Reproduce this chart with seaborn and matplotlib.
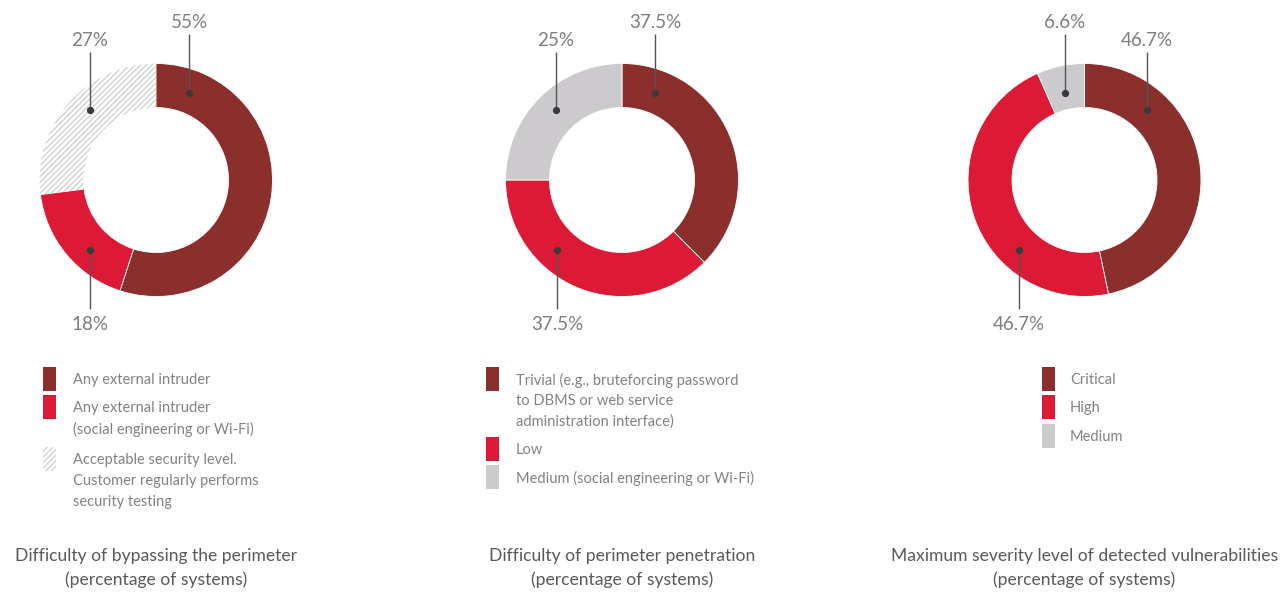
import matplotlib
matplotlib.use("Agg")
import matplotlib.pyplot as plt
from matplotlib.patches import Rectangle
import seaborn as sns

# ---------------- data ----------------
bypass_categories = [
    "Any external intruder",
    "Any external intruder\n(social engineering or Wi-Fi)",
    "Acceptable security level.\nCustomer regularly performs\nsecurity testing",
]
bypass_values = [55, 18, 27]

penetration_categories = [
    "Trivial (e.g., bruteforcing password\nto DBMS or web service\nadministration interface)",
    "Low",
    "Medium (social engineering or Wi-Fi)",
]
penetration_values = [37.5, 37.5, 25]

severity_categories = ["Critical", "High", "Medium"]
severity_values = [46.7, 46.7, 6.6]

chart_titles = [
    "Difficulty of bypassing the perimeter\n(percentage of systems)",
    "Difficulty of perimeter penetration\n(percentage of systems)",
    "Maximum severity level of detected vulnerabilities\n(percentage of systems)",
]

# ---------------- style ----------------
sns.set_theme(style="white")
plt.rcParams["font.family"] = ["Lato", "DejaVu Sans"]
plt.rcParams["hatch.linewidth"] = 0.8

palette = sns.color_palette(["#8B2F2C", "#DC1A36", "#CCCACD"])
HATCH_GREY = "#C9C9C9"
LABEL_GREY = "#7D7E81"
LEGEND_GREY = "#808285"
TITLE_GREY = "#58595B"

W, H = 1280, 597
R_OUT, RING = 116.5, 44


def Y(y):
    """pixel row (top-down) -> data y (bottom-up)"""
    return H - y


# per-chart layout: centre, legend columns, legend first-line rows,
# callout placement (tier, x offset from centre) for each slice, hatched slice
layouts = [
    dict(cx=156, cy=180, sq_x=43, txt_x=73, rows=[380, 408, 460],
         callouts=[("high", 33), ("bottom", -66), ("low", -66)], hatched=2),
    dict(cx=622, cy=180, sq_x=486, txt_x=516, rows=[380, 450, 478],
         callouts=[("high", 33), ("bottom", -65), ("low", -66)], hatched=None),
    dict(cx=1084.5, cy=180, sq_x=1042, txt_x=1070, rows=[380, 408, 437],
         callouts=[("low", 62), ("bottom", -66), ("high", -20)], hatched=None),
]
charts = [
    (bypass_values, bypass_categories),
    (penetration_values, penetration_categories),
    (severity_values, severity_categories),
]

# tier -> (label centre row, line end row, dot offset from centre)
tiers = {
    "high": (22, 34, -87),
    "low": (40, 52, -70),
    "bottom": (325, 309, 70),
}

fig = plt.figure(figsize=(W / 100, H / 100), dpi=100)
ax = fig.add_axes([0, 0, 1, 1])

for (values, cats), lay, title in zip(charts, layouts, chart_titles):
    cx, cy = lay["cx"], lay["cy"]
    colors = list(palette)
    wedges, _ = ax.pie(
        values, colors=colors, startangle=90, counterclock=False,
        radius=R_OUT, center=(cx, Y(cy)),
        wedgeprops=dict(width=RING, edgecolor="white", linewidth=0.6),
    )
    if lay["hatched"] is not None:
        w = wedges[lay["hatched"]]
        w.set_facecolor("white")
        w.set_edgecolor(HATCH_GREY)
        w.set_linewidth(0)
        w.set_hatch("//////")

    # callouts: value text, leader line and dot
    for v, (tier, dx) in zip(values, lay["callouts"]):
        ty, ly, ddy = tiers[tier]
        x = cx + dx
        dot_y = cy + ddy
        ax.plot([x, x], [Y(ly), Y(dot_y)], color="#555557", lw=1.0,
                solid_capstyle="butt", zorder=5)
        ax.plot([x], [Y(dot_y)], "o", ms=4.2, color="#3A3A3C", zorder=6)
        ax.text(x, Y(ty), f"{v:g}%", ha="center", va="center",
                fontsize=13.5, fontweight="normal", color=LABEL_GREY)

    # legend
    for i, (cat, row) in enumerate(zip(cats, lay["rows"])):
        sq_top = row - 13
        if lay["hatched"] == i:
            ax.add_patch(Rectangle((lay["sq_x"], Y(sq_top + 24)), 13, 24,
                                   facecolor="white", edgecolor=HATCH_GREY,
                                   linewidth=0, hatch="//////"))
        else:
            ax.add_patch(Rectangle((lay["sq_x"], Y(sq_top + 24)), 13, 24,
                                   facecolor=colors[i], linewidth=0))
        for j, line in enumerate(cat.split("\n")):
            ax.text(lay["txt_x"], Y(row + j * 21), line, ha="left",
                    va="center", fontsize=10.5, color=LEGEND_GREY)

    # chart title
    for j, line in enumerate(title.split("\n")):
        ax.text(cx, Y(556 + j * 24), line, ha="center", va="center",
                fontsize=12.6, color=TITLE_GREY)

ax.set_xlim(0, W)
ax.set_ylim(0, H)
ax.set_aspect("equal")
ax.axis("off")

fig.savefig("out.png", dpi=100, facecolor="white")
